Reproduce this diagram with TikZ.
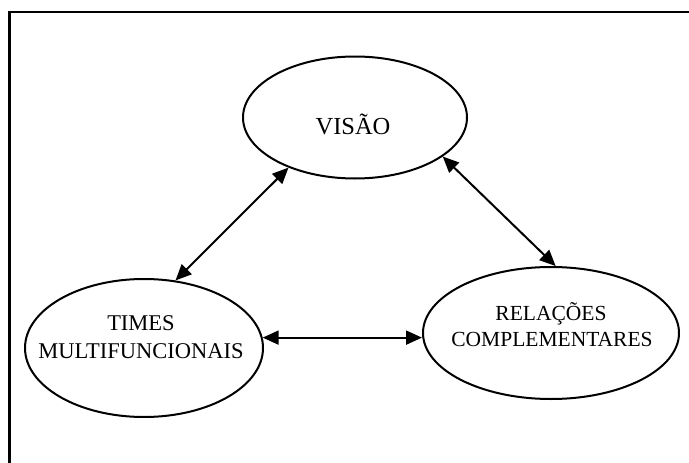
\documentclass[tikz,border=0pt]{standalone}
\usepackage{fontspec}
\setmainfont{Liberation Serif}
\usetikzlibrary{shapes.geometric,arrows.meta}
\begin{document}
\begin{tikzpicture}[x=1pt,y=-1pt,
  bubble/.style={draw=black,line width=2pt,ellipse,inner sep=0pt},
  caption/.style={anchor=base,inner sep=0pt,font=\fontsize{22.5}{26}\selectfont},
  link/.style={line width=2pt,{Triangle[length=16pt,width=14pt]}-{Triangle[length=16pt,width=14pt]}},
  frameline/.style={line width=2.2pt}]
  \useasboundingbox (0,0) rectangle (689,463);
  % partial outer frame (top and left edges)
  \coordinate (fbl) at (9.5,463);
  \coordinate (ftl) at (9.5,12);
  \coordinate (ftr) at (689,12);
  \draw[frameline] (fbl) -- (ftl) -- (ftr);
  % the three ellipses
  \node[bubble,minimum width=224pt,minimum height=122pt] (v) at (355,117.5) {};
  \node[bubble,minimum width=238pt,minimum height=138pt] (t) at (144,348) {};
  \node[bubble,minimum width=256pt,minimum height=132pt] (r) at (551,333) {};
  % labels
  \node[caption,font=\fontsize{24.5}{28}\selectfont] (vl) at (353,134) {VISÃO};
  \node[caption] (tl1) at (141,330) {TIMES};
  \node[caption] (tl2) at (141,358) {MULTIFUNCIONAIS};
  \node[caption,font=\fontsize{21.5}{26}\selectfont] (rl1) at (551,320) {RELAÇÕES};
  \node[caption,font=\fontsize{21.5}{26}\selectfont] (rl2) at (552,346) {COMPLEMENTARES};
  % double-headed connectors
  \draw[link] (v.217) -- (t.65);
  \draw[link] (v.336) -- (r.86);
  \draw[link] (t.5) -- (t.5 -| r.west);
\end{tikzpicture}
\end{document}
